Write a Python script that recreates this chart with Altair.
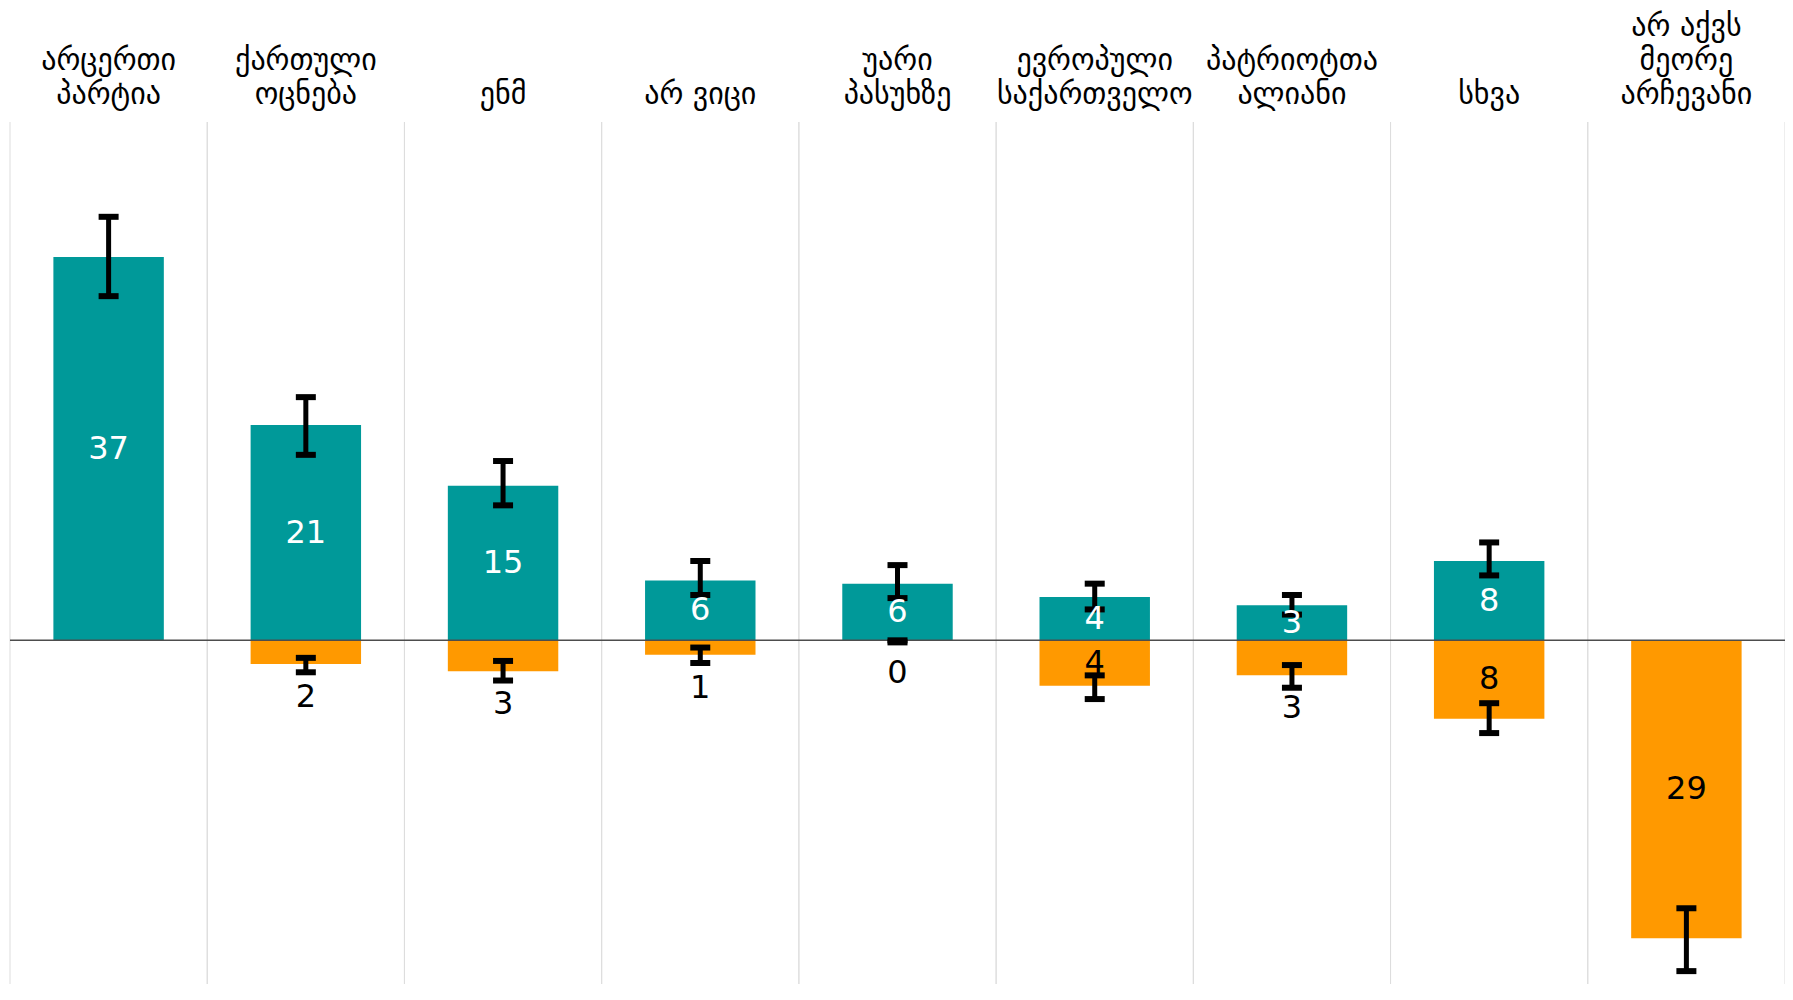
import altair as alt
import pandas as pd

categories = ["არცერთი\nპარტია", "ქართული\nოცნება", "ენმ", "არ ვიცი", "უარი\nპასუხზე",
              "ევროპული\nსაქართველო", "პატრიოტთა\nალიანი", "სხვა", "არ აქვს\nმეორე\nარჩევანი"]

pos_values = [37.2, 20.9, 15.0, 5.8, 5.5, 4.2, 3.4, 7.7, None]
pos_low = [33.4, 18.0, 13.1, 4.4, 4.1, 3.0, 2.5, 6.3, None]
pos_high = [41.1, 23.6, 17.4, 7.7, 7.3, 5.5, 4.4, 9.5, None]

neg_values = [None, 2.3, 3.0, 1.4, 0.0, 4.4, 3.4, 7.6, 28.9]
neg_low = [None, 1.7, 2.0, 0.7, 0.0, 3.4, 2.4, 6.1, 26.0]
neg_high = [None, 3.1, 3.9, 2.2, 0.2, 5.7, 4.6, 9.0, 32.1]

TEAL = "#009999"
ORANGE = "#FF9900"

rows = []
for i, c in enumerate(categories):
    if pos_values[i] is not None:
        v = pos_values[i]
        rows.append(dict(cat=c, sign="pos", val=v, lo=pos_low[i], hi=pos_high[i],
                         lab=f"{round(v):d}", ly=v / 2, lc="white"))
    if neg_values[i] is not None:
        v = neg_values[i]
        ly = -v / 2 if round(v) >= 4 else -v - 3.2
        rows.append(dict(cat=c, sign="neg", val=-v, lo=-neg_low[i], hi=-neg_high[i],
                         lab=f"{round(v):d}", ly=ly, lc="black"))
df = pd.DataFrame(rows)
cat_df = pd.DataFrame({"cat": categories})

hrows = []
for c in categories:
    lines = c.split("\n")
    for k, line in enumerate(reversed(lines)):
        hrows.append(dict(cat=c, line=line, k=k))
head_df = pd.DataFrame(hrows)

W, H = 1775, 862
xscale = alt.Scale(domain=categories, paddingInner=0, paddingOuter=0)
yscale = alt.Scale(domain=[-33.35, 50.3], nice=False, zero=False)

def X(**kw):
    return alt.X("cat:N", scale=xscale, axis=None, sort=categories, **kw)

Y = lambda f: alt.Y(f, scale=yscale, axis=None)

grid_l = alt.Chart(cat_df).mark_rule(color="#dddddd", strokeWidth=1).encode(
    x=X(bandPosition=0), y=alt.value(0), y2=alt.value(H))
grid_r = alt.Chart(cat_df).mark_rule(color="#dddddd", strokeWidth=1).encode(
    x=X(bandPosition=1), y=alt.value(0), y2=alt.value(H))

bars = alt.Chart(df).mark_bar(width=alt.RelativeBandSize(0.56)).encode(
    x=X(),
    y=Y("val:Q"),
    y2=alt.datum(0),
    color=alt.Color("sign:N", scale=alt.Scale(domain=["pos", "neg"], range=[TEAL, ORANGE]), legend=None),
)

zero = alt.Chart(pd.DataFrame({"z": [0]})).mark_rule(color="#4d4d4d", strokeWidth=1.5).encode(
    y=alt.Y("z:Q", scale=yscale, axis=None))

err = alt.Chart(df).mark_rule(color="black", strokeWidth=5).encode(
    x=X(), y=Y("lo:Q"), y2="hi:Q")
cap_lo = alt.Chart(df).mark_tick(color="black", thickness=6, size=20, opacity=1).encode(
    x=X(), y=Y("lo:Q"))
cap_hi = alt.Chart(df).mark_tick(color="black", thickness=6, size=20, opacity=1).encode(
    x=X(), y=Y("hi:Q"))

labels = alt.Chart(df).mark_text(font="DejaVu Sans", fontSize=32, baseline="middle").encode(
    x=X(), y=Y("ly:Q"), text="lab:N", color=alt.Color("lc:N", scale=None))

header_layers = []
for k in range(3):
    header_layers.append(
        alt.Chart(head_df).transform_filter(alt.datum.k == k).mark_text(
            font="DejaVu Sans", fontSize=30, baseline="middle", color="black").encode(
            x=X(), y=alt.value(-27 - 34 * k), text="line:N")
    )

chart = alt.layer(grid_l, grid_r, bars, zero, err, cap_lo, cap_hi, labels, *header_layers).properties(
    width=W, height=H,
    autosize=alt.AutoSizeParams(type="none"),
    padding={"left": 2, "top": 114, "right": 0, "bottom": 0},
).configure_view(stroke=None)

chart.save("out.html", embed_options={"renderer": "svg", "actions": False})
